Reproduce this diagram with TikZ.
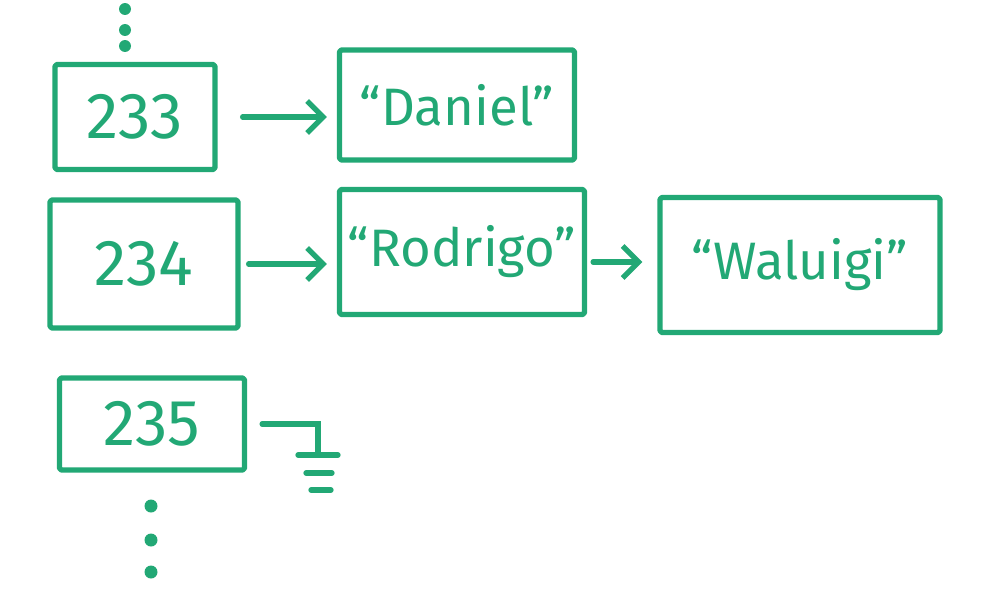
\documentclass[tikz,border=0pt]{standalone}
\usepackage{fontspec}
\setmainfont{Fira Sans}
\usepackage{tikz}
\usetikzlibrary{arrows.meta,positioning,calc}
\definecolor{chalk}{HTML}{22A875}
\tikzset{
  every picture/.append style={font=\fontsize{30}{34}\selectfont},
  cell/.style   = {draw=chalk, line width=3pt, line join=round, text=chalk,
                   rounded corners=1pt, inner sep=0pt},
  idx/.style    = {cell, font=\fontsize{37}{40}\selectfont},
  strbox/.style = {cell},
  arr/.style    = {draw=chalk, line width=3pt, line cap=round,
                   -{Straight Barb[length=3.2mm, width=6.4mm, line width=3pt]}},
  wire/.style   = {draw=chalk, line width=3pt, line cap=round},
  dot/.style    = {fill=chalk},
}

\begin{document}
\begin{tikzpicture}[x=0.02cm,y=-0.02cm]
  \useasboundingbox (0,0) rectangle (993,595);
  % index cells
  \node[idx, minimum width=3.2cm,  minimum height=2.1cm]  (n233) at (135,117) {233};
  \node[idx, minimum width=3.76cm, minimum height=2.56cm] (n234) at (144,264) {234};
  \node[idx, minimum width=3.7cm,  minimum height=1.84cm] (n235) at (152,424) {235};
  % stored strings
  \node[strbox, minimum width=4.7cm, minimum height=2.2cm] (daniel)  at (457,105) {“Daniel”};
  \node[strbox, minimum width=4.9cm, minimum height=2.5cm] (rodrigo) at (462,252) {“Rodrigo”};
  \node[strbox, minimum width=5.6cm, minimum height=2.7cm] (waluigi) at (800,265) {“Waluigi”};
  % links
  \draw[arr, shorten <=0.5cm, shorten >=0.2cm] (n233.east) -- (n233.east -| daniel.west);
  \draw[arr, shorten <=0.16cm, shorten >=0.2cm] (n234.east) -- (n234.east -| rodrigo.west);
  \draw[arr, shorten <=0.12cm, shorten >=0.3cm] ([yshift=-0.2cm]rodrigo.east) -- ([yshift=-0.2cm]rodrigo.east -| waluigi.west);
  % null pointer
  \coordinate (gnd) at (318,455);
  \draw[wire, shorten <=0.3cm] (n235.east) -| (gnd);
  \draw[wire] (gnd) +(-20,0) -- +(20,0);
  \draw[wire] ($(gnd)+(-12,18)$) -- +(26,0);
  \draw[wire] ($(gnd)+(-7,35)$) -- +(20,0);
  % more cells
  \foreach \y in {9,30,46}
    \fill[dot] (125,\y) circle (0.12cm);
  \foreach \y in {506,540,572}
    \fill[dot] (151,\y) circle (0.13cm);
\end{tikzpicture}
\end{document}
